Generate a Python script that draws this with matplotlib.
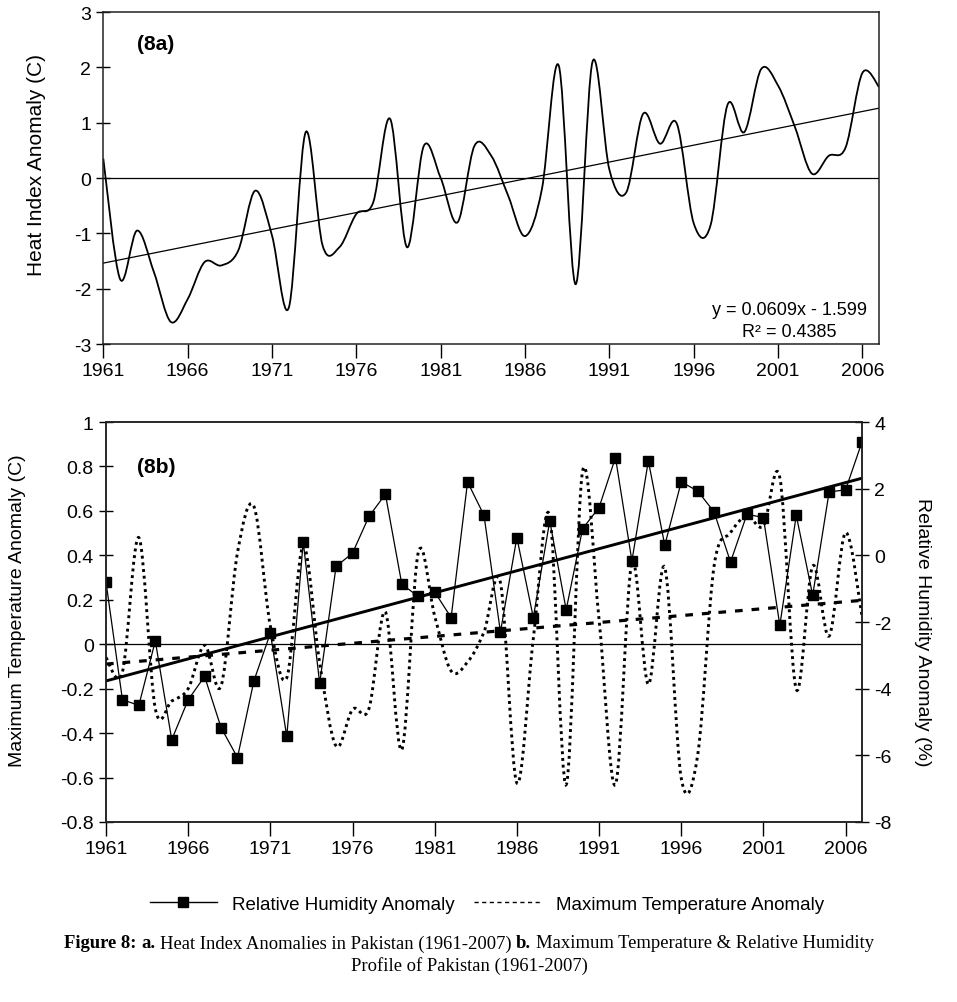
import numpy as np
import matplotlib.pyplot as plt
from matplotlib.path import Path
from matplotlib.patches import PathPatch
from matplotlib.lines import Line2D

plt.rcParams['font.family'] = ['Liberation Sans', 'DejaVu Sans']
plt.rcParams['axes.unicode_minus'] = False

# ---- data ----
years = np.arange(1961, 2008)

# (8a) heat index anomaly (C)
heat_index = [0.35, -1.83, -0.95, -1.70, -2.60, -2.19, -1.52, -1.58, -1.31, -0.23,
              -1.04, -2.34, 0.83, -1.22, -1.25, -0.65, -0.44, 1.07, -1.25, 0.58,
              0.00, -0.80, 0.58, 0.40, -0.32, -1.05, -0.20, 2.03, -1.92, 2.10,
              0.15, -0.26, 1.16, 0.62, 0.98, -0.82, -0.85, 1.32, 0.83, 1.97,
              1.67, 0.92, 0.08, 0.40, 0.55, 1.90, 1.64]
hi_slope = 0.0609
hi_intercept = -1.599
hi_r2 = 0.4385

# (8b) square-marker series (left axis, C)
square_series = [0.28, -0.25, -0.275, 0.015, -0.43, -0.25, -0.145, -0.375, -0.51, -0.165,
                 0.05, -0.415, 0.46, -0.175, 0.35, 0.41, 0.575, 0.675, 0.27, 0.215,
                 0.235, 0.12, 0.73, 0.58, 0.055, 0.48, 0.12, 0.555, 0.155, 0.52,
                 0.615, 0.84, 0.375, 0.825, 0.445, 0.73, 0.69, 0.595, 0.37, 0.585,
                 0.57, 0.085, 0.58, 0.22, 0.685, 0.695, 0.91]

# (8b) dotted series (right axis, %)
dotted_series = [-3.07, -3.5, 0.53, -4.6, -4.37, -4.0, -2.7, -3.92, 0.08, 1.47,
                 -2.12, -3.67, 0.28, -3.22, -5.72, -4.62, -4.6, -1.7, -5.83, 0.08,
                 -1.82, -3.47, -3.2, -2.3, -0.82, -6.83, -2.5, 1.18, -6.88, 2.53,
                 -1.92, -6.88, -0.22, -3.87, -0.37, -6.68, -6.0, -0.32, 0.68, 1.18,
                 0.88, 2.33, -4.02, -0.32, -2.42, 0.68, -1.82]

xtick_years = np.arange(1961, 2007, 5)
left_ticks = [-0.8, -0.6, -0.4, -0.2, 0, 0.2, 0.4, 0.6, 0.8, 1]
left_ticklabels = ['-0.8', '-0.6', '-0.4', '-0.2', '0', '0.2', '0.4', '0.6', '0.8', '1']
legend_labels = ['Relative Humidity Anomaly', 'Maximum Temperature Anomaly']

W, H = 957, 1003


def smooth_path(x, y):
    # excel-like smoothed line: cubic bezier through every point
    x = np.asarray(x, float)
    y = np.asarray(y, float)
    n = len(x)
    verts = [(x[0], y[0])]
    codes = [Path.MOVETO]
    for i in range(n - 1):
        i0 = max(i - 1, 0)
        i3 = min(i + 2, n - 1)
        c1 = (x[i] + (x[i + 1] - x[i0]) / 6, y[i] + (y[i + 1] - y[i0]) / 6)
        c2 = (x[i + 1] - (x[i3] - x[i]) / 6, y[i + 1] - (y[i3] - y[i]) / 6)
        verts += [c1, c2, (x[i + 1], y[i + 1])]
        codes += [Path.CURVE4] * 3
    return Path(verts, codes)


def style_axis(ax):
    for s in ax.spines.values():
        s.set_linewidth(1.1)
        s.set_color('#222222')
    ax.tick_params(axis='y', direction='inout', length=9.5, width=1, labelsize=14, pad=4)
    ax.tick_params(axis='x', direction='out', length=10, width=1, labelsize=14, pad=3)


fig = plt.figure(figsize=(W / 100, H / 100), dpi=100)

###################################
# (8a)
ax1 = fig.add_axes([103.3 / W, 1 - 345 / H, (879.3 - 103.3) / W, (345 - 13) / H])
ax1.add_patch(PathPatch(smooth_path(years, heat_index), fill=False, edgecolor='black', lw=1.3))
idx = years - 1960
ax1.plot(years, hi_slope * idx + hi_intercept, color='black', lw=0.9)
ax1.axhline(0, color='black', lw=0.9)
ax1.set_xlim(1961, 2007)
ax1.set_ylim(-3, 3)
ax1.set_yticks(np.arange(-3, 4, 1))
ax1.set_xticks(xtick_years)
style_axis(ax1)

fig.text(137 / W, 1 - 45 / H, '(8a)', fontsize=15, fontweight='bold', va='center')
fig.text(789 / W, 1 - 311 / H, 'y = %.4fx - %.3f' % (hi_slope, abs(hi_intercept)),
         fontsize=13, ha='center', va='center')
fig.text(789 / W, 1 - 333 / H, 'R\u00b2 = %.4f' % hi_r2, fontsize=13, ha='center', va='center')
fig.text(37 / W, 1 - 165 / H, 'Heat Index Anomaly (C)', fontsize=15, rotation=90,
         ha='center', va='center')

###################################
# (8b)
ax2 = fig.add_axes([106 / W, 1 - 823 / H, (862 - 106) / W, (823 - 423) / H])
ax3 = ax2.twinx()

ax2.axhline(0, color='black', lw=0.9)
ax2.plot(years, square_series, color='black', lw=0.9, marker='s', markersize=6.5, zorder=4)
sq_fit = np.polyfit(years, square_series, 1)
ax2.plot(years, np.polyval(sq_fit, years), color='black', lw=2.1, zorder=3)

ax3.add_patch(PathPatch(smooth_path(years, dotted_series), fill=False, edgecolor='black',
                        lw=2.1, linestyle=(0, (1, 1.3))))
dot_fit = np.polyfit(years, dotted_series, 1)
ax3.plot(years, np.polyval(dot_fit, years), color='black', lw=2.3, linestyle=(0, (2.4, 2.8)))

ax2.set_xlim(1961, 2007)
ax2.set_ylim(-0.8, 1)
ax2.set_yticks(left_ticks)
ax2.set_yticklabels(left_ticklabels)
ax2.set_xticks(xtick_years)
ax3.set_ylim(-8, 4)
ax3.set_yticks(np.arange(-8, 5, 2))
style_axis(ax2)
style_axis(ax3)

fig.text(137 / W, 1 - 468 / H, '(8b)', fontsize=15, fontweight='bold', va='center')
fig.text(18 / W, 1 - 611 / H, 'Maximum Temperature Anomaly (C)', fontsize=14, rotation=90,
         ha='center', va='center')
fig.text(922 / W, 1 - 632 / H, 'Relative Humidity Anomaly (%)', fontsize=14, rotation=270,
         ha='center', va='center')

handles = [Line2D([], [], color='black', lw=1, marker='s', markersize=7),
           Line2D([], [], color='black', lw=1, linestyle=(0, (3, 2.5)))]
fig.legend(handles, legend_labels, loc='center', bbox_to_anchor=(487 / W, 1 - 905 / H),
           ncol=2, frameon=False, fontsize=13.5, handlelength=3.6, columnspacing=1.0,
           handletextpad=0.8)

###################################
# caption with mixed bold / regular runs
renderer = fig.canvas.get_renderer()
serif = 'Liberation Serif'


def caption_line(y_px, parts, size=13.4, cx=469):
    space = fig.text(0, 0, 'x x', family=serif, fontsize=size)
    nospace = fig.text(0, 0, 'xx', family=serif, fontsize=size)
    sp = space.get_window_extent(renderer).width - nospace.get_window_extent(renderer).width
    space.remove()
    nospace.remove()
    texts = [fig.text(0, 1 - y_px / H, s, family=serif, fontsize=size, fontweight=w,
                      va='center') for s, w in parts]
    widths = [t.get_window_extent(renderer).width for t in texts]
    total = sum(widths) + sp * (len(parts) - 1)
    x = cx - total / 2
    for t, w in zip(texts, widths):
        t.set_x(x / W)
        x += w + sp


caption_line(944, [('Figure 8:', 'bold'), ('a.', 'bold'),
                   ('Heat Index Anomalies in Pakistan (1961-2007)', 'normal'),
                   ('b.', 'bold'), ('Maximum Temperature & Relative Humidity', 'normal')])
caption_line(966, [('Profile of Pakistan (1961-2007)', 'normal')])

fig.savefig('out.png', dpi=100)
